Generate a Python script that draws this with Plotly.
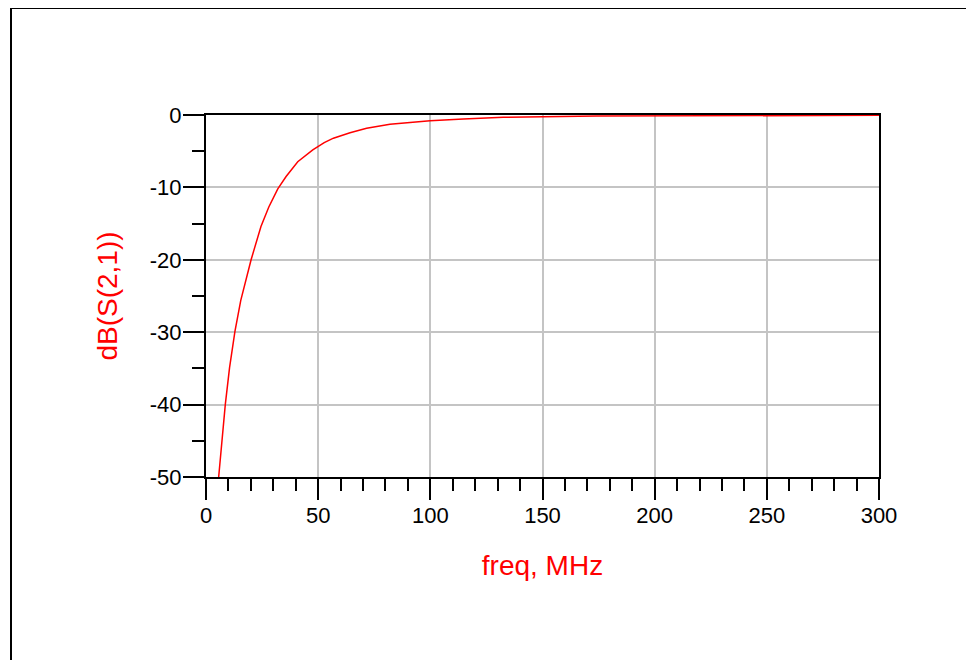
import plotly.graph_objects as go

freq_mhz = [5.65, 7.1, 8.6, 10.5, 12.9, 15.5, 20.1, 24.5, 28.0, 32.0, 35.7, 40.9,
            47.6, 52.7, 56.8, 64.2, 71.6, 82.0, 92.4, 99.9, 114.7, 132.5, 174.0,
            220.0, 260.0, 300.0]
s21_db = [-50.0, -44.9, -40.0, -34.9, -29.9, -25.6, -20.0, -15.4, -12.7, -10.2,
          -8.5, -6.45, -4.83, -3.82, -3.2, -2.44, -1.84, -1.29, -1.0, -0.78,
          -0.55, -0.32, -0.14, -0.08, -0.06, -0.05]

x_ticks = [0, 50, 100, 150, 200, 250, 300]
y_ticks = [0, -10, -20, -30, -40, -50]

FONT = "Liberation Sans, Arial, sans-serif"

fig = go.Figure()
fig.add_trace(go.Scatter(x=freq_mhz, y=s21_db, mode="lines",
                         line=dict(color="#ff0000", width=1.5),
                         showlegend=False, hoverinfo="x+y"))

axis_common = dict(
    showline=True, linecolor="black", linewidth=2, mirror=True,
    showgrid=True, gridcolor="#c4c4c4", gridwidth=2,
    ticks="outside", ticklen=21, tickwidth=2, tickcolor="black",
    tickfont=dict(family=FONT, size=22, color="black"),
    zeroline=False, ticklabelstandoff=-3,
    minor=dict(ticks="outside", ticklen=12, tickwidth=2, tickcolor="black", showgrid=False),
)

fig.update_xaxes(range=[0, 300], tickvals=x_ticks, ticktext=[str(v) for v in x_ticks],
                 title=dict(text="freq, MHz", font=dict(family=FONT, size=28, color="#ff0000"),
                            standoff=28),
                 **axis_common)
fig.update_xaxes(minor_dtick=10)
fig.update_yaxes(range=[-50, 0], tickvals=y_ticks, ticktext=[str(v) for v in y_ticks],
                 title=dict(text="dB(S(2,1))", font=dict(family=FONT, size=28, color="#ff0000"),
                            standoff=24),
                 **axis_common)
fig.update_yaxes(minor_dtick=5)

# outer frame (figure is offset by the page's 8px body margin)
x_left = -195 / 673
x_right = 767 / 673
y_top = 1 + 107 / 362
y_bot = -0.55
fig.add_shape(type="line", xref="paper", yref="paper", x0=x_left, x1=x_left, y0=y_top, y1=y_bot,
              line=dict(color="black", width=2))
fig.add_shape(type="line", xref="paper", yref="paper", x0=x_left, x1=x_right, y0=y_top, y1=y_top,
              line=dict(color="black", width=2))
fig.add_shape(type="line", xref="paper", yref="paper", x0=x_right, x1=x_right, y0=y_top, y1=y_bot,
              line=dict(color="#a0a0a0", width=2))

fig.update_layout(
    width=966, height=652,
    margin=dict(l=198, r=95, t=107, b=183, autoexpand=False),
    paper_bgcolor="white", plot_bgcolor="white",
    font=dict(family=FONT),
)

fig.write_html("out.html")
